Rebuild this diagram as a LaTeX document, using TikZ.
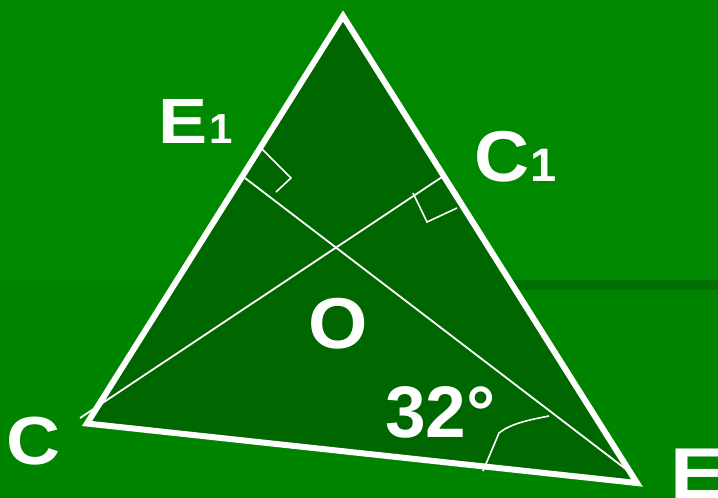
\documentclass[tikz,border=0pt]{standalone}
\usepackage{fontspec}
\setmainfont{Liberation Sans}
\definecolor{bgtop}{RGB}{0,136,0}
\definecolor{bgbot}{RGB}{0,132,0}
\definecolor{bandc}{RGB}{0,110,0}
\definecolor{tri}{RGB}{0,102,0}
\begin{document}
\begin{tikzpicture}[x=1pt,y=-1pt,
  side/.style={white, line width=6pt, line join=miter},
  thinline/.style={white, line width=1.8pt},
  rmark/.style={white, line width=1.6pt},
  lbl/.style={text=white, inner sep=0pt, anchor=base}]
\fill[bgtop] (0,0) rectangle (718,280);
\fill[bgbot] (0,280) rectangle (718,498);
\fill[bandc] (360,280) rectangle (718,290);
\useasboundingbox (0,0) rectangle (718,498);
\coordinate (A) at (343,16);
\coordinate (C) at (87,423.5);
\coordinate (E) at (637,483);
\coordinate (C1) at (442,177);
\coordinate (E1) at (245,178);
\coordinate (Cs) at (80,418);
\coordinate (Es) at (627,470);
\fill[tri] (A)--(C)--(E)--cycle;
\draw[thinline] (Cs)--(C1);
\draw[thinline] (Es)--(E1);
\coordinate (m1a) at (262,149);
\coordinate (m1b) at (291,178);
\coordinate (m1c) at (276,192);
\draw[rmark] (m1a)--(m1b)--(m1c);
\coordinate (m2a) at (413,193);
\coordinate (m2b) at (427,222);
\coordinate (m2c) at (457,208);
\draw[rmark] (m2a)--(m2b)--(m2c);
\coordinate (arcA) at (483,471);
\coordinate (arcB) at (499,433);
\coordinate (arcC) at (549,416);
\draw[rmark] (arcA)--(arcB) .. controls (510,424) and (528,420) .. (arcC);
\draw[side] (A)--(C)--(E)--cycle;
\node[lbl, font=\bfseries\fontsize{64}{64}\selectfont] (lE) at (183,143) {\scalebox{1.15}[1]{E}};
\node[lbl, font=\bfseries\fontsize{42}{42}\selectfont] (lE1) at (221.5,143) {1};
\node[lbl, font=\bfseries\fontsize{72}{72}\selectfont] (lC) at (502,181) {\scalebox{1.06}[1]{C}};
\node[lbl, font=\bfseries\fontsize{47}{47}\selectfont] (lC1) at (543.5,181) {1};
\node[lbl, font=\bfseries\fontsize{72}{72}\selectfont] (lO) at (338.5,348) {\scalebox{1.06}[1]{O}};
\node[lbl, font=\bfseries\fontsize{73}{73}\selectfont] (l32) at (440.5,437) {32°};
\node[lbl, font=\bfseries\fontsize{68}{68}\selectfont] (lCC) at (33.5,464) {\scalebox{1.1}[1]{C}};
\node[lbl, font=\bfseries\fontsize{72}{72}\selectfont, anchor=base west] (lEE) at (670,498) {\scalebox{1.15}[1]{E}};
\end{tikzpicture}
\end{document}
